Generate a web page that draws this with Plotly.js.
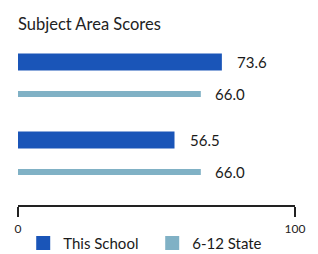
<!DOCTYPE html>
<html><head><meta charset="utf-8">
<script src="https://cdn.plot.ly/plotly-3.0.1.min.js"></script>
<style>html,body{margin:0;padding:0;background:#fff;}#c{width:318px;height:254px;}</style>
</head><body><div id="c"></div>
<script>
const subjects = ["Subject 1", "Subject 2"];
const schoolScores = [73.6, 56.5];
const stateScores = [66.0, 66.0];
const seriesNames = ["This School", "6-12 State"];
const tickVals = [0, 100];
const tickText = ["0", "100"];

const groupStep = 78, schoolOff = 17, stateOff = 49;
const ySchool = subjects.map((s, i) => schoolOff + i * groupStep);
const yState = subjects.map((s, i) => stateOff + i * groupStep);

const colSchool = "#1a55b8", colState = "#80b1c5";

const traces = [
  {type: "bar", orientation: "h", name: seriesNames[0], x: schoolScores, y: ySchool, showlegend: false,
   width: 17, marker: {color: colSchool}, text: subjects, hoverinfo: "x+text", textposition: "none"},
  {type: "bar", orientation: "h", name: seriesNames[1], x: stateScores, y: yState, showlegend: false,
   width: 6, marker: {color: colState}, text: subjects, hoverinfo: "x+text", textposition: "none"},
  {type: "scatter", mode: "markers", name: seriesNames[0], x: [null], y: [null],
   marker: {symbol: "square", size: 14, color: colSchool}},
  {type: "scatter", mode: "markers", name: seriesNames[1], x: [null], y: [null],
   marker: {symbol: "square", size: 14, color: colState}}
];

const ann = [];
schoolScores.forEach((v, i) => ann.push({x: v, y: ySchool[i], xref: "x", yref: "y", text: v.toFixed(1),
  showarrow: false, xanchor: "left", yanchor: "middle", xshift: 13, font: {size: 15, color: "#1a1a1a", family: "Lato"}}));
stateScores.forEach((v, i) => ann.push({x: v, y: yState[i], xref: "x", yref: "y", text: v.toFixed(1),
  showarrow: false, xanchor: "left", yanchor: "middle", xshift: 12, font: {size: 15, color: "#1a1a1a", family: "Lato"}}));

const layout = {
  width: 318, height: 254,
  margin: {l: 18, r: 23, t: 45, b: 49},
  paper_bgcolor: "#fff", plot_bgcolor: "#fff",
  font: {family: "Lato", color: "#1a1a1a"},
  title: {text: "Subject Area Scores", x: 0, xref: "paper", xanchor: "left", y: 0.905, yanchor: "middle",
          font: {size: 16.5, family: "Lato", color: "#222"}},
  barmode: "overlay",
  showlegend: true,
  legend: {orientation: "h", xref: "container", x: 0.073, xanchor: "left",
           yref: "container", y: 0.042, yanchor: "middle",
           font: {size: 15, family: "Lato", color: "#1a1a1a"}, entrywidth: 84, entrywidthmode: "pixels",
           itemclick: false, bgcolor: "rgba(0,0,0,0)"},
  xaxis: {range: [0, 100], tickvals: tickVals, ticktext: tickText, showgrid: false, zeroline: false,
          showline: true, linecolor: "#222", linewidth: 1.5, ticks: "outside", ticklen: 10, tickwidth: 1.5,
          tickcolor: "#222", ticklabelstandoff: 2,
          tickfont: {size: 12, family: "Lato", color: "#222"}, fixedrange: true, side: "bottom"},
  yaxis: {range: [160, 0], showticklabels: false, showgrid: false, zeroline: false, showline: false,
          ticks: "", fixedrange: true},
  annotations: ann
};
Plotly.newPlot("c", traces, layout, {displayModeBar: false, staticPlot: true});
</script></body></html>
